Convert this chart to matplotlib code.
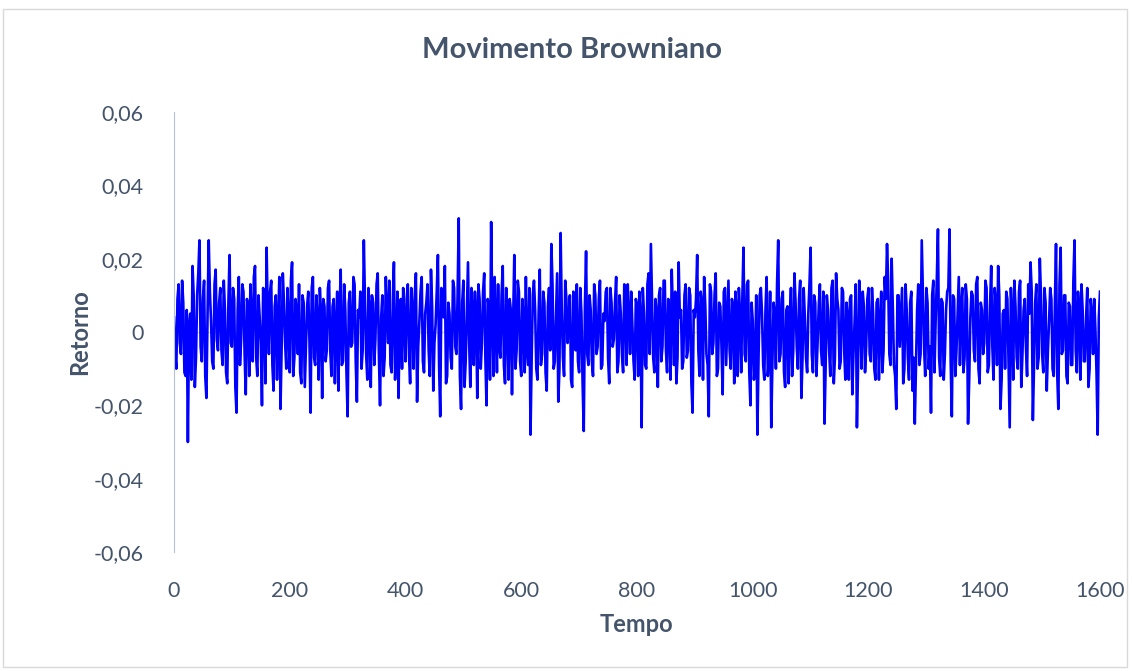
import matplotlib
matplotlib.use("Agg")
from matplotlib import pyplot as plt
from matplotlib import ticker
from matplotlib.patches import Rectangle

# retorno em milesimos; serie A nos tempos 0, 4, 8, ... 1600
ret_mil_a = [
    4, -10, 13, -6, 8, -12, -30, 5, 18, -15, 10, 25, -8, 14, -18, 25, 3, -10, 17, -5,
    12, -9, 6, -14, 21, -4, 9, -22, 15, -2, 11, -17, 7, 13, -8, 18, -12, 4, -20, 9,
    23, -6, 14, -16, 10, 2, -21, 16, -3, 12, -11, 19, -7, 5, 13, -14, 8, -4, 11, -22,
    15, -9, 3, 12, -18, 7, -5, 14, -12, 9, 1, -16, 17, -8, 6, -23, 11, -3, 13, -19,
    4, -10, 25, -6, 12, -15, 8, -2, 16, -20, 10, -7, 5, 14, -11, 19, -4, -18, 9, 12,
    -8, 13, -14, 6, 10, -19, 3, 15, -11, 8, -5, 17, -16, 2, 21, -23, 9, 18, -12, 5,
    -10, 12, -6, 31, -21, 14, -8, 19, -15, 6, 11, -18, 9, -3, 16, -20, 7, 30, -12, 4,
    13, -7, 18, -14, 5, 9, -17, 21, -5, 11, -12, 3, 15, -9, -28, 10, 6, -13, 17, -6,
    8, -16, 12, 24, -10, 4, -19, 27, -7, 14, -3, 10, -15, 7, 13, -11, 5, -27, 22, -9,
    6, -12, 10, -4, 14, -9, 3, 12, -14, 8, -2, 15, -8, 5, -11, 9, 13, -6, 2, -13,
    7, 11, -26, 5, -10, 16, 24, -7, 9, -15, 12, -4, 14, -11, 3, 17, -9, -14, 19, 6,
    -8, 13, -5, 10, -22, 4, 21, -12, 8, 15, -6, -23, 11, -3, 16, -10, 7, -17, 12, 2,
    -5, 9, -14, 6, 12, -11, 23, -8, 14, -20, 3, -9, -28, 10, 5, -13, 15, -7, -26, 8,
    -10, 25, -6, 11, -15, 7, 2, -12, 16, -4, 9, -18, 12, -7, 5, 23, -11, 8, -3, 13,
    -9, -25, 10, -5, 12, -14, 16, 6, -8, 11, -13, 4, 9, -17, 3, -26, 14, -10, 7, -4,
    12, -8, 5, -13, 9, 2, -11, 15, 24, -6, 20, -9, -21, 10, 4, -14, 13, -7, 8, -16,
    -25, 6, -9, 25, -4, 12, -10, -22, 14, 3, 28, -12, 8, -6, 11, 28, -23, 9, -5, 15,
    7, -11, 13, -25, 4, 10, -8, 15, -14, 6, -3, 12, -9, 18, -13, 8, 18, -21, 5, -10,
    9, -26, 4, 14, -7, 11, -15, 6, -4, 13, 19, -24, 8, -10, 20, -6, 12, -16, 3, 9,
    -12, 24, -21, 23, -5, 10, -14, 7, -9, 25, -11, 6, 13, -8, 4, -15, 9, -6, 1, -28,
    11,
]
# serie B nos tempos 2, 6, 10, ... 1598
ret_mil_b = [
    -6, 9, -3, 14, -11, 6, 2, -13, 10, -7, 16, -4, 9, -12, 5, 11, -8, 13, -2, 8,
    -5, 14, -11, 8, -3, 12, -15, 6, -9, 13, -6, 9, -12, 4, 15, -7, 10, -3, 12, -14,
    5, 11, -9, 7, -13, 15, -4, 8, -10, 3, 14, -12, 9, -6, -11, 10, -15, 7, -2, 12,
    -7, 10, -13, 5, 9, -8, 12, -5, 7, -14, 11, 4, -9, 13, -11, 8, -4, 15, -8, 6,
    11, -5, 8, -13, 6, 10, -9, 13, -6, 4, -12, 15, -3, -9, 8, -13, 11, 6, -10, 3,
    9, -6, 12, -10, 16, -4, 11, -8, 5, 13, -12, 7, -3, 11, -9, 12, 4, -14, 8, -7,
    14, -4, 10, -12, 8, -15, 6, -3, 12, -9, 5, 13, -10, 11, -7, 9, -13, 4, 15, -11,
    -4, 10, -9, 12, -13, 6, 3, -10, 14, -8, 9, -11, -5, 12, -7, 14, -10, 5, -9, 11,
    -11, 7, -5, 13, -8, 16, -10, 6, -12, 9, 4, -13, 11, -5, -8, 12, -14, 7, -6, 10,
    -8, 13, -6, 9, -10, 5, 11, -7, 12, -4, 8, -11, 10, -6, 13, -9, 4, 11, -8, 9,
    -12, 4, 12, -9, 13, -6, 8, -11, 5, 10, -8, 14, -5, 9, -13, 6, 11, -7, 4, -10,
    10, -7, 12, -14, 6, 9, -5, 11, -13, 7, -9, 13, -6, 10, -12, 8, -4, 11, -9, 14,
    -10, 7, 11, -12, 5, 9, -6, 13, -11, 8, -13, 10, -7, 12, -9, 6, -12, 11, -8, 5,
    13, -8, 9, -11, 6, -14, 12, -5, 8, -10, 14, -7, 4, -11, 13, -6, 10, -12, 7, -5,
    11, -9, 6, -12, 14, -7, 9, -10, 12, -5, 8, -13, 10, -6, 13, -9, 5, 11, -11, 9,
    -6, 12, -10, 8, -13, 11, -5, 9, 14, -9, 7, -12, 10, -4, 12, -10, 6, -13, 11, -7,
    -9, 13, -6, 11, -12, 8, -4, 10, -11, 14, -7, 9, -13, 6, 12, -8, 10, -12, 5, -9,
    12, -7, 9, -13, 11, -5, 13, -10, 8, -6, 14, -11, 7, -4, 12, -9, 10, -13, 6, 11,
    -8, 12, -13, 7, -10, 14, -6, 9, -12, 5, 11, -9, 13, -7, 10, -11, 8, -5, 12, -10,
    7, -11, 13, -6, 10, -12, 8, -9, 14, -5, 11, -13, 6, -8, 12, -10, 5, 9, -11, 4,
]

ret_mil = []
for i in range(len(ret_mil_b)):
    ret_mil.append(ret_mil_a[i])
    ret_mil.append(ret_mil_b[i])
ret_mil.append(ret_mil_a[-1])
retorno = [v / 1000 for v in ret_mil]
tempo = [2 * i for i in range(len(retorno))]

xticks = [0, 200, 400, 600, 800, 1000, 1200, 1400, 1600]
yticks = [-0.06, -0.04, -0.02, 0, 0.02, 0.04, 0.06]

plt.rcParams['font.family'] = ['Lato', 'DejaVu Sans']
texto = '#44546A'

W, H = 1132, 671
fig = plt.figure(figsize=(W / 100, H / 100), dpi=100)
fig.patches.append(Rectangle((3 / W, 4 / H), 1124 / W, 658 / H, transform=fig.transFigure,
                             fill=False, edgecolor='#D9D9D9', lw=1))
ax = fig.add_axes([174 / W, (H - 552) / H, 926 / W, 440 / H])

ax.axhline(0, color='#D9D9D9', lw=1, zorder=1)
ax.plot(tempo, retorno, color='#0000FF', lw=1.9, zorder=2)

ax.set_xlim(0, 1600)
ax.set_ylim(-0.06, 0.06)
ax.set_xticks(xticks)
ax.set_yticks(yticks)
ax.yaxis.set_major_formatter(ticker.FuncFormatter(
    lambda v, p: '0' if abs(v) < 1e-9 else ('%.2f' % v).replace('.', ',')))
ax.tick_params(length=0, labelsize=15.5, labelcolor=texto)
ax.tick_params(axis='y', pad=22)
ax.tick_params(axis='x', pad=21)
for s in ['top', 'right', 'bottom']:
    ax.spines[s].set_visible(False)
ax.spines['left'].set_color('#B4C2D4')

fig.text(572 / W, 1 - 50 / H, 'Movimento Browniano', ha='center', va='center',
         fontsize=21, fontweight='bold', color=texto)
fig.text(636 / W, 1 - 625 / H, 'Tempo', ha='center', va='center',
         fontsize=17, fontweight='bold', color=texto)
fig.text(80 / W, 1 - 332 / H, 'Retorno', ha='center', va='center', rotation=90,
         fontsize=17, fontweight='bold', color=texto)

fig.savefig('out.png', dpi=100)
